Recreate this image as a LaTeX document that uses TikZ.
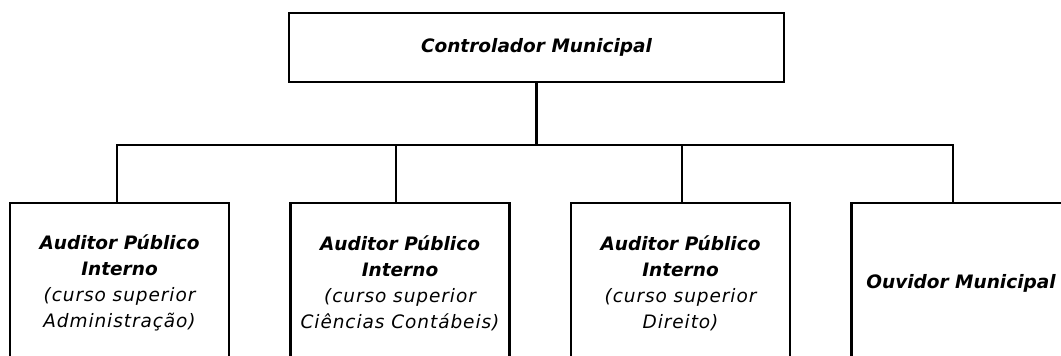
\documentclass[tikz,border=0pt]{standalone}
\usepackage{fontspec}
\setmainfont{DejaVu Sans}
\usepackage{tikz}
\usetikzlibrary{calc}

\tikzset{
  cargo/.style={draw, line width=2.8pt, align=center, inner sep=0pt,
    font=\fontsize{18.5}{26}\selectfont\bfseries\itshape},
  subbox/.style={minimum width=219pt, minimum height=160pt},
  liga/.style={line width=2.8pt}
}
\newcommand{\leve}{\mdseries\addfontfeatures{LetterSpace=5}}

\begin{document}
\begin{tikzpicture}[x=1pt,y=-1pt]
\useasboundingbox (0,0) rectangle (1061,356);
\clip (0,0) rectangle (1061,356);
\node[cargo, minimum width=495pt, minimum height=69pt] (ctrl) at (536.5,47.5) {Controlador Municipal};
\node[cargo, subbox] (aud1) at (119.5,283) {Auditor Público\\Interno\\\leve(curso superior\\\leve Administração)};
\node[cargo, subbox] (aud2) at (400,283) {Auditor Público\\Interno\\\leve(curso superior\\\leve Ciências Contábeis)};
\node[cargo, subbox] (aud3) at (680.5,283) {Auditor Público\\Interno\\\leve(curso superior\\\leve Direito)};
\node[cargo, subbox] (ouv) at (961,283) {Ouvidor Municipal};
\coordinate (bus) at (536.5,145);
\draw[liga] (ctrl.south) -- (bus);
\draw[liga]
([xshift=-2.5pt]aud1.north) |- (bus) -| ([xshift=-8pt]ouv.north)
([xshift=-4pt]aud2.north) -- ([xshift=-4pt]aud2.north |- bus)
([xshift=1.5pt]aud3.north) -- ([xshift=1.5pt]aud3.north |- bus);
\end{tikzpicture}
\end{document}
